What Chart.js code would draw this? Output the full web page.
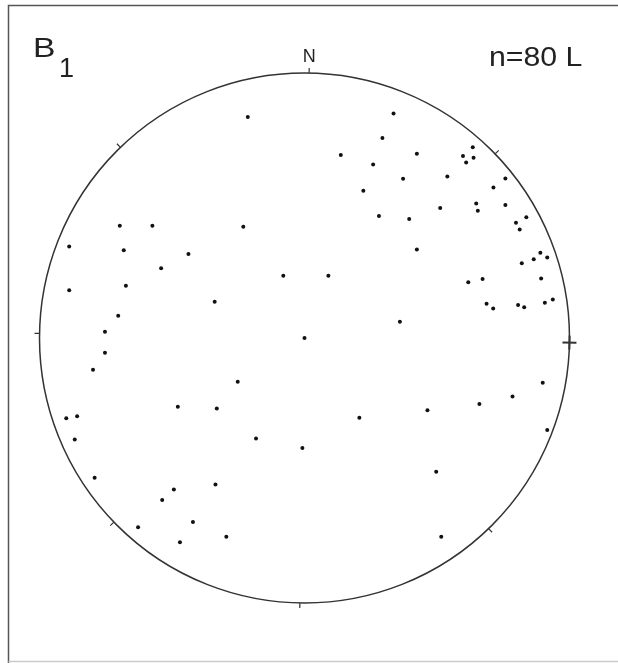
<!DOCTYPE html>
<html>
<head>
<meta charset="utf-8">
<title>B1 lineations</title>
<script src="https://cdn.jsdelivr.net/npm/chart.js@4"></script>
<style>
  html, body { margin: 0; padding: 0; background: #fff; }
  canvas { display: block; }
</style>
</head>
<body>
<canvas id="stereonet" width="618" height="663"></canvas>
<script>
const eastX = [
  -0.214, -0.697, -0.574, -0.231, -0.888, -0.682, -0.438, -0.541, -0.080, -0.888,
  -0.674, -0.339, -0.703, -0.753, 0.000, 0.336, 0.294, 0.137, 0.424, 0.259,
  0.635, 0.598, 0.638, 0.610, 0.372, 0.539, 0.758, 0.713, 0.222, 0.512,
  0.648, 0.654, 0.758, 0.281, 0.395, 0.837, 0.798, 0.812, 0.424, 0.890,
  0.865, 0.916, 0.820, 0.090, 0.618, 0.672, 0.893, 0.687, 0.712, 0.806,
  0.829, 0.907, 0.937, 0.360, -0.753, -0.798, -0.252, -0.478, -0.331, -0.899,
  -0.858, -0.867, -0.183, -0.008, -0.792, -0.336, -0.493, -0.537, -0.421, -0.628,
  -0.295, -0.470, 0.899, 0.785, 0.660, 0.464, 0.207, 0.916, 0.497, 0.516
];
const northY = [
  0.834, 0.424, 0.424, 0.420, 0.345, 0.331, 0.317, 0.263, 0.235, 0.180,
  0.197, 0.137, 0.084, 0.024, 0.000, 0.847, 0.755, 0.691, 0.695, 0.655,
  0.720, 0.687, 0.680, 0.662, 0.601, 0.609, 0.602, 0.568, 0.556, 0.491,
  0.508, 0.480, 0.502, 0.460, 0.449, 0.456, 0.435, 0.409, 0.334, 0.322,
  0.297, 0.304, 0.282, 0.235, 0.210, 0.223, 0.225, 0.129, 0.111, 0.125,
  0.116, 0.133, 0.145, 0.061, -0.056, -0.120, -0.165, -0.259, -0.266, -0.303,
  -0.295, -0.383, -0.379, -0.415, -0.527, -0.553, -0.572, -0.611, -0.694, -0.714,
  -0.750, -0.771, -0.169, -0.221, -0.249, -0.273, -0.301, -0.347, -0.505, -0.750
];
const panelLabel = 'B';
const panelIndex = '1';
const countLabel = 'n=80 L';
const northLabel = 'N';
const tickAzimuths = [0, 45, 90, 135, 180, 225, 270, 315];

const netRotation = 1; // degrees, the printed net is turned slightly

// the scanned lettering is a bit wider than the plain font
function wideText(ctx, text, x, y, font, stretch) {
  ctx.save();
  ctx.font = font;
  ctx.translate(x, y);
  ctx.scale(stretch, 1);
  ctx.fillText(text, 0, 0);
  ctx.restore();
}

const netPlugin = {
  id: 'net',
  beforeDatasetsDraw(chart) {
    const ctx = chart.ctx;
    const xs = chart.scales.x, ys = chart.scales.y;
    const cx = xs.getPixelForValue(0), cy = ys.getPixelForValue(0);
    const r = xs.getPixelForValue(1) - cx;

    ctx.save();
    // frame of the panel
    ctx.strokeStyle = '#555';
    ctx.lineWidth = 1.5;
    ctx.beginPath();
    ctx.moveTo(8.5, 663); ctx.lineTo(8.5, 5.5); ctx.lineTo(618, 5.5);
    ctx.stroke();
    ctx.strokeStyle = '#ccc';
    ctx.beginPath();
    ctx.moveTo(8.5, 661.5); ctx.lineTo(618, 661.5);
    ctx.stroke();

    // primitive circle
    ctx.strokeStyle = '#333';
    ctx.lineWidth = 1.5;
    ctx.beginPath();
    ctx.arc(cx, cy, r, 0, Math.PI * 2);
    ctx.stroke();

    // azimuth ticks
    tickAzimuths.forEach(az => {
      const a = (az + netRotation) * Math.PI / 180;
      const sx = Math.sin(a), sy = -Math.cos(a);
      const inner = az === 90 ? r - 7 : r;
      const outer = az === 90 ? r + 7 : r + 5;
      ctx.lineWidth = az === 90 ? 2 : 1.2;
      ctx.beginPath();
      ctx.moveTo(cx + sx * inner, cy + sy * inner);
      ctx.lineTo(cx + sx * outer, cy + sy * outer);
      ctx.stroke();
      if (az === 90) {
        ctx.beginPath();
        ctx.moveTo(cx + sx * r + sy * 7, cy + sy * r - sx * 7);
        ctx.lineTo(cx + sx * r - sy * 7, cy + sy * r + sx * 7);
        ctx.stroke();
      }
    });

    // labels
    ctx.fillStyle = '#222';
    ctx.textBaseline = 'alphabetic';
    ctx.textAlign = 'left';
    wideText(ctx, panelLabel, 33, 57, '28px "Liberation Sans", Arial, sans-serif', 1.2);
    wideText(ctx, panelIndex, 59, 77, '27px "Liberation Sans", Arial, sans-serif', 1.0);
    wideText(ctx, countLabel, 489, 66, '27px "Liberation Sans", Arial, sans-serif', 1.12);
    ctx.textAlign = 'center';
    ctx.font = '18px "Liberation Sans", Arial, sans-serif';
    const na = netRotation * Math.PI / 180;
    ctx.fillText(northLabel, cx + Math.sin(na) * r, 62);
    ctx.restore();
  }
};

new Chart(document.getElementById('stereonet'), {
  type: 'scatter',
  data: {
    datasets: [{
      label: 'Lineations',
      data: eastX.map((x, i) => ({ x: x, y: northY[i] })),
      pointRadius: 2,
      pointBackgroundColor: '#111',
      pointBorderWidth: 0,
      clip: false
    }]
  },
  options: {
    responsive: false,
    animation: false,
    layout: { padding: { left: 39.5, right: 48.5, top: 73, bottom: 60 } },
    plugins: { legend: { display: false }, tooltip: { enabled: false } },
    scales: {
      x: { type: 'linear', min: -1, max: 1, display: false },
      y: { type: 'linear', min: -1, max: 1, display: false }
    }
  },
  plugins: [netPlugin]
});
</script>
</body>
</html>
